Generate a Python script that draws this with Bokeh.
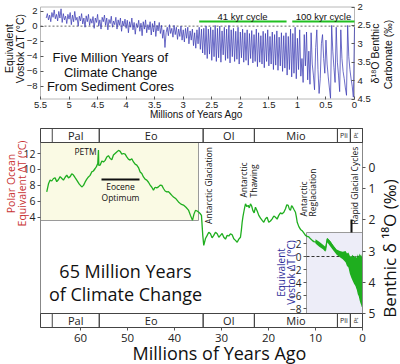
import numpy as np
from bokeh.plotting import figure
from bokeh.models import Range1d, LinearAxis, Label, FixedTicker
from bokeh.layouts import column
from bokeh.embed import file_html
from bokeh.resources import INLINE
from bokeh.core.properties import value

# ======================= DATA =======================
# Top panel: benthic carbonate d18O stack, 5.40 Ma -> 0 Ma, 20 kyr steps
top_d18o = [
    2.30, 2.18, 2.35, 2.22, 2.40, 2.15, 2.28, 2.08, 2.32, 2.20,
    2.38, 2.12, 2.30, 2.05, 2.42, 2.18, 2.35, 2.25, 2.45, 2.20,
    2.33, 2.15, 2.48, 2.22, 2.40, 2.12, 2.36, 2.28, 2.52, 2.25,
    2.38, 2.18, 2.46, 2.30, 2.55, 2.24, 2.40, 2.20, 2.50, 2.32,
    2.44, 2.26, 2.58, 2.30, 2.42, 2.20, 2.52, 2.35, 2.60, 2.28,
    2.40, 2.22, 2.50, 2.30, 2.62, 2.34, 2.45, 2.25, 2.55, 2.38,
    2.48, 2.28, 2.60, 2.35, 2.50, 2.30, 2.66, 2.38, 2.52, 2.33,
    2.58, 2.36, 2.70, 2.40, 2.55, 2.30, 2.62, 2.42, 2.74, 2.45,
    2.56, 2.36, 2.66, 2.44, 2.78, 2.40, 2.60, 2.35, 2.70, 2.48,
    2.62, 2.40, 2.76, 2.45, 2.68, 2.38, 2.80, 2.50, 2.65, 2.42,
    2.72, 2.50, 2.85, 2.62, 3.10, 2.70, 2.55, 2.78, 2.48, 2.72,
    2.58, 2.82, 2.50, 2.75, 2.55, 2.88, 2.60, 2.80, 2.52, 2.90,
    2.62, 2.95, 2.58, 2.85, 2.55, 3.00, 2.65, 2.90, 2.60, 3.05,
    2.70, 3.12, 2.62, 3.00, 2.55, 3.15, 2.60, 3.25, 2.58, 3.30,
    2.52, 3.40, 2.60, 3.28, 2.55, 3.45, 2.62, 3.35, 2.50, 3.48,
    2.58, 3.38, 2.52, 3.50, 2.65, 3.30, 2.55, 3.45, 2.60, 3.40,
    2.50, 3.52, 2.62, 3.35, 2.58, 3.48, 2.66, 3.42, 2.55, 3.55,
    2.68, 3.38, 2.60, 3.50, 2.70, 3.45, 2.62, 3.58, 2.72, 3.40,
    2.64, 3.52, 2.75, 3.48, 2.60, 3.62, 2.70, 3.50, 2.78, 3.55,
    2.66, 3.65, 2.72, 3.48, 2.62, 3.60, 2.80, 3.55, 2.68, 3.70,
    2.75, 3.58, 2.65, 3.72, 2.82, 3.60, 2.70, 3.75, 2.78, 3.66,
    2.70, 3.85, 2.80, 3.70, 2.60, 3.90, 2.72, 3.80, 2.55, 3.95,
    2.85, 3.70, 2.62, 3.88, 3.40, 4.05, 2.75, 3.60, 2.68, 3.98,
    3.20, 4.10, 2.70, 3.55, 3.85, 4.25, 3.10, 2.62, 3.70, 4.35,
    3.95, 3.00, 2.75, 3.40, 3.80, 2.90, 3.55, 3.90, 4.20, 4.48,
    2.50, 3.20, 3.65, 4.05, 2.55, 3.50, 3.85, 4.30, 2.62, 3.40,
    3.75, 3.95, 4.20, 4.40, 2.50, 3.35, 3.70, 3.95, 4.15, 4.45,
    2.55,
]
top_age = np.round(np.linspace(5.40, 0.0, 271), 2)

cycle_label = ["41 kyr cycle", "100 kyr cycle"]
cycle_from = [2.72, 1.09]
cycle_to = [1.19, 0.0]

top_x_ticks = [5.5, 5.0, 4.5, 4.0, 3.5, 3.0, 2.5, 2.0, 1.5, 1.0, 0.5, 0.0]
top_right_ticks = [2.0, 2.5, 3.0, 3.5, 4.0, 4.5]
top_left_ticks = [-8, -6, -4, -2, 0, 2]
top_zero_d18o = 2.52       # d18O value equivalent to 0 degC
top_deg_per_permil = 4.907

# Bottom panel: benthic d18O over the Cenozoic (Ma, per mil)
green_age = [67.17, 66.8, 66.45, 66.1, 65.74, 65.4, 65.04, 64.7, 64.32, 63.95,
             63.62, 63.25, 62.91, 62.55, 62.19, 61.85, 61.49, 61.1, 60.79, 60.25,
             59.72, 59.35, 59.0, 58.65, 58.3, 57.95, 57.6, 57.25, 56.87, 56.6,
             56.32, 56.17, 56.1, 55.8, 55.45, 55.1, 54.75, 54.4, 54.05, 53.68,
             53.33, 52.98, 52.63, 52.28, 51.9, 51.55, 51.2, 50.85, 50.5, 50.15,
             49.8, 49.43, 49.08, 48.72, 48.37, 48.02, 47.66, 47.3, 46.95, 46.6,
             46.25, 45.89, 45.53, 45.17, 44.82, 44.47, 44.12, 43.77, 43.4, 43.04,
             42.69, 42.34, 41.99, 41.64, 41.28, 40.91, 40.56, 40.21, 39.68, 39.15,
             38.62, 38.09, 37.55, 37.02, 36.6, 36.17, 35.85, 35.53, 35.18, 34.83,
             34.55, 34.26, 33.98, 33.77, 33.4, 33.04, 32.7, 32.34, 32.0, 31.64,
             31.28, 30.91, 30.56, 30.21, 29.86, 29.51, 29.15, 28.79, 28.44, 28.09,
             27.73, 27.38, 27.02, 26.66, 26.31, 25.96, 25.78, 25.6, 25.43, 25.26,
             25.08, 24.89, 24.6, 24.32, 24.08, 23.83, 23.58, 23.34, 23.05, 22.77,
             22.4, 22.06, 21.7, 21.34, 21.0, 20.64, 20.3, 19.94, 19.58, 19.21,
             18.86, 18.51, 18.16, 17.81, 17.45, 17.09, 16.73, 16.38, 16.1, 15.81,
             15.56, 15.32, 15.08, 14.83, 14.55, 14.26, 14.08, 13.89, 13.54, 13.19,
             12.84, 12.49, 12.13, 11.77, 11.42, 11.06, 10.7, 10.36, 9.64, 8.94,
             8.23, 7.87, 7.51, 6.81, 6.11, 5.38, 4.68, 3.98, 3.26, 2.55,
             1.85, 1.13, 0.43, 0.06]
green_d18o = [1.11, 0.85, 0.73, 0.76, 0.68, 0.66, 0.78, 0.72, 0.62, 0.68,
              0.73, 0.64, 0.57, 0.66, 0.62, 0.53, 0.57, 0.66, 0.73, 0.86,
              0.95, 0.90, 0.79, 0.70, 0.63, 0.58, 0.47, 0.44, 0.36, 0.30,
              0.20, -0.23, 0.26, 0.25, 0.12, 0.15, 0.10, -0.01, -0.05, 0.04,
              0.08, -0.07, -0.12, -0.17, -0.22, -0.19, -0.10, -0.12, -0.10, -0.01,
              0.06, 0.09, 0.05, 0.15, 0.22, 0.25, 0.33, 0.47, 0.52, 0.63,
              0.70, 0.73, 0.80, 0.89, 0.96, 1.05, 0.96, 0.98, 0.95, 0.89,
              0.90, 1.00, 1.08, 1.11, 1.10, 1.16, 1.22, 1.27, 1.33, 1.43,
              1.50, 1.53, 1.60, 1.69, 1.86, 2.02, 1.82, 1.70, 1.72, 1.76,
              1.80, 1.86, 2.50, 2.82, 2.60, 2.50, 2.40, 2.45, 2.58, 2.50,
              2.40, 2.45, 2.56, 2.50, 2.44, 2.56, 2.62, 2.50, 2.52, 2.45,
              2.48, 2.61, 2.66, 2.72, 2.62, 2.56, 2.35, 2.08, 1.90, 1.76,
              1.62, 1.49, 1.58, 1.54, 1.62, 1.49, 1.56, 1.70, 1.78, 1.60,
              1.72, 1.86, 1.95, 2.02, 2.08, 1.97, 1.92, 2.08, 2.04, 1.97,
              1.88, 1.92, 1.98, 1.86, 1.78, 1.81, 1.76, 1.65, 1.52, 1.54,
              1.66, 1.70, 1.55, 1.60, 1.68, 1.76, 1.90, 2.08, 2.22, 2.31,
              2.35, 2.42, 2.50, 2.53, 2.55, 2.61, 2.66, 2.70, 2.72, 2.82,
              2.88, 2.98, 2.61, 2.72, 2.88, 3.04, 3.09, 3.14, 3.30, 3.62,
              3.84, 4.16, 4.48, 4.69]

# Late Neogene glacial-interglacial range (min / max d18O)
late_age = [10.0, 9.2, 8.4, 7.9, 7.5, 7.0, 6.2, 5.5, 4.8, 4.2,
            3.6, 3.3, 3.0, 2.7, 2.4, 2.1, 1.8, 1.5, 1.2, 1.0,
            0.8, 0.6, 0.45, 0.3, 0.15, 0.05, 0.0]
late_min = [2.62, 2.70, 2.80, 2.86, 2.58, 2.66, 2.82, 2.95, 3.00, 3.02,
            3.00, 3.08, 3.05, 3.15, 3.18, 3.12, 3.20, 3.15, 3.22, 3.10,
            3.18, 3.08, 3.15, 3.10, 3.20, 3.12, 3.35]
late_max = [2.76, 2.86, 2.94, 3.02, 2.72, 2.82, 2.98, 3.12, 3.20, 3.26,
            3.36, 3.48, 3.52, 3.72, 3.85, 3.95, 4.05, 4.12, 4.25, 4.38,
            4.45, 4.58, 4.66, 4.72, 4.80, 4.76, 4.82]

epoch_name = ["Pal", "Eo", "Ol", "Mio", "Pli", "Pt"]
epoch_from = [66.0, 56.0, 33.9, 23.0, 5.33, 2.58]
epoch_to = [56.0, 33.9, 23.0, 5.33, 2.58, 0.0]

bottom_x_ticks = [60, 50, 40, 30, 20, 10, 0]
bottom_right_labels = ["0", "1", "2", "3", "4", "5"]
polar_ticks = [4, 6, 8, 10, 12]
vostok_ticks = [-8, -6, -4, -2, 0, 2]

# ======================= LAYOUT (canvas pixels -> data) =======================
W = 400
TOP_H, BOT_H = 122, 242
T_X0, T_X1, T_Y0, T_Y1 = 40, 354, 6.5, 98.5     # top panel box
B_X0, B_X1 = 40, 362                            # bottom panel box
TOP_AGE_MAX, TOP_D_TOP, TOP_D_BOT = 5.5, 2.0, 4.5
BOT_AGE_MAX = 68.5
B_PX_PER_MA = (B_X1 - B_X0) / BOT_AGE_MAX
B_Y_D0, B_PX_PER_PERMIL = 156.75, 31.25


def top_xy(X, Y):
    x = TOP_AGE_MAX * (T_X1 - X) / (T_X1 - T_X0)
    y = TOP_D_TOP + (TOP_D_BOT - TOP_D_TOP) * (Y - T_Y0) / (T_Y1 - T_Y0)
    return x, y


def bot_xy(X, Y):   # Y in page pixels (bottom figure starts at TOP_H)
    return (B_X1 - X) / B_PX_PER_MA, (Y - B_Y_D0) / B_PX_PER_PERMIL


BOT_D_TOP = bot_xy(0, 128)[1]
BOT_D_BOT = bot_xy(0, 327)[1]


def style_axis(ax, font, size, tin=0, tout=3, color="#222222", standoff=2):
    ax.major_label_text_font = font
    ax.major_label_text_font_size = size
    ax.major_label_text_color = color
    ax.major_tick_in = tin
    ax.major_tick_out = tout
    ax.minor_tick_line_color = None
    ax.major_tick_line_color = "#555555"
    ax.axis_line_color = None
    ax.major_label_standoff = standoff


def add_label(p, conv, text, X, Y, size, font, color="#111111", angle=0.0,
              align="center", baseline="middle"):
    x, y = conv(X, Y)
    p.add_layout(Label(x=x, y=y, text=text, text_font=font, text_font_size=size,
                       text_color=color, angle=angle, text_align=align,
                       text_baseline=baseline))


V = np.pi / 2
SANS_T = "Liberation Sans"
SANS_B = "Open Sans"

# ======================= TOP FIGURE =======================
tx0, ty0 = top_xy(0, 0)
tx1, ty1 = top_xy(W, TOP_H)
top = figure(width=W, height=TOP_H, x_range=Range1d(tx0, tx1), y_range=Range1d(ty1, ty0),
             x_axis_location=None, y_axis_location=None,
             output_backend="svg", toolbar_location=None, min_border=0,
             outline_line_color=None, background_fill_color="white")
top.xgrid.visible = False
top.ygrid.visible = False


def t_of_d(d):
    return (top_zero_d18o - d) * top_deg_per_permil


top.extra_y_ranges = {"T": Range1d(t_of_d(ty1), t_of_d(ty0))}

top.quad(left=[TOP_AGE_MAX], right=[0.0], top=[TOP_D_TOP], bottom=[TOP_D_BOT],
         fill_color=None, line_color="#b8b8b8", line_width=1)
top.line([TOP_AGE_MAX, 0.0], [0, 0], y_range_name="T", line_dash="2 2",
         line_color="#666666", line_width=1)
top.line(top_age, top_d18o, line_color="#3c3cb4", line_width=0.75)

_, ybar = top_xy(0, 21)
top.segment(x0=cycle_from, x1=cycle_to, y0=[ybar] * 2, y1=[ybar] * 2,
            line_color="#22c022", line_width=2.2)

tx = LinearAxis(fixed_location=TOP_D_BOT, ticker=FixedTicker(ticks=top_x_ticks))
tx.major_label_overrides = {t: ("%g" % t) for t in top_x_ticks}
style_axis(tx, SANS_T, "9.5px", tin=3, tout=0, standoff=3)
top.add_layout(tx, "below")

ry = LinearAxis(fixed_location=0.0, ticker=FixedTicker(ticks=top_right_ticks))
ry.major_label_overrides = {t: ("%g" % t) for t in top_right_ticks}
style_axis(ry, SANS_T, "9.5px", tin=3, tout=0, standoff=3)
top.add_layout(ry, "right")

ly = LinearAxis(y_range_name="T", fixed_location=TOP_AGE_MAX,
                ticker=FixedTicker(ticks=top_left_ticks))
style_axis(ly, SANS_T, "9.5px", tin=3, tout=0, standoff=3)
top.add_layout(ly, "left")

add_label(top, top_xy, "Five Million Years of", 110, 57, "13px", SANS_T)
add_label(top, top_xy, "Climate Change", 110, 72, "13px", SANS_T)
add_label(top, top_xy, "From Sediment Cores", 110, 86, "13px", SANS_T)
add_label(top, top_xy, cycle_label[0], 242, 15.5, "9.5px", SANS_T)
add_label(top, top_xy, cycle_label[1], 323, 15.5, "9.5px", SANS_T)
add_label(top, top_xy, "Equivalent", 8, 48, "10.5px", SANS_T, angle=V)
add_label(top, top_xy, "Vostok \u0394T (\u00b0C)", 19, 48, "10.5px", SANS_T, angle=V)
add_label(top, top_xy, "\u03b4\u00b9\u2078O Benthic", 374, 53, "10.5px", SANS_T, angle=V)
add_label(top, top_xy, "Carbonate (\u2030)", 387, 54, "10.5px", SANS_T, angle=V)
add_label(top, top_xy, "Millions of Years Ago", 196, 113.5, "10px", SANS_T)

# ======================= BOTTOM FIGURE =======================
bx0, by0 = bot_xy(0, TOP_H)
bx1, by1 = bot_xy(W, TOP_H + BOT_H)
bot = figure(width=W, height=BOT_H, x_range=Range1d(bx0, bx1), y_range=Range1d(by1, by0),
             x_axis_location=None, y_axis_location=None,
             output_backend="svg", toolbar_location=None, min_border=0,
             outline_line_color=None, background_fill_color="white")
bot.xgrid.visible = False
bot.ygrid.visible = False

POLAR_12_D, POLAR_4_D = bot_xy(0, 153)[1], bot_xy(0, 216.5)[1]
VOSTOK_0_D = bot_xy(0, 256)[1]
VOSTOK_PX_PER_DEG = 6.5


def polar_of_d(d):
    return 12 + (d - POLAR_12_D) * (4 - 12) / (POLAR_4_D - POLAR_12_D)


def vostok_of_d(d):
    return -(d - VOSTOK_0_D) * B_PX_PER_PERMIL / VOSTOK_PX_PER_DEG


bot.extra_y_ranges = {
    "polar": Range1d(polar_of_d(by1), polar_of_d(by0)),
    "vostok": Range1d(vostok_of_d(by1), vostok_of_d(by0)),
}

band_top_hi = bot_xy(0, 142)[1]
band_bot_lo = bot_xy(0, 313)[1]
y_inset1_bottom = bot_xy(0, 220)[1]
x_inset1_right = bot_xy(198, 0)[0]
x_inset2_left = bot_xy(306, 0)[0]
y_inset2_top = bot_xy(0, 232)[1]

bot.quad(left=[BOT_AGE_MAX], right=[x_inset1_right], top=[band_top_hi],
         bottom=[y_inset1_bottom], fill_color="#fafae4", line_color="#9a9a9a")
bot.quad(left=[x_inset2_left], right=[0.0], top=[y_inset2_top],
         bottom=[band_bot_lo], fill_color="#ededf8", line_color="#9a9a9a")
bot.line([x_inset2_left, 0.0], [0, 0], y_range_name="vostok", line_dash="3 2",
         line_color="#333333", line_width=1)

bot.varea(x=late_age, y1=late_min, y2=late_max, fill_color="#1fae1f")
bot.line(green_age, green_d18o, line_color="#1fae1f", line_width=1.3)

# outer box
bot.quad(left=[BOT_AGE_MAX], right=[0.0], top=[BOT_D_TOP], bottom=[BOT_D_BOT],
         fill_color=None, line_color="#888888")

# epoch bands
mids = [(a + b) / 2 for a, b in zip(epoch_from, epoch_to)]
for ytop, ybot in [(BOT_D_TOP, band_top_hi), (band_bot_lo, BOT_D_BOT)]:
    bot.quad(left=[BOT_AGE_MAX], right=[0.0], top=[ytop], bottom=[ybot],
             fill_color="white", line_color="#444444")
    bot.quad(left=epoch_from, right=epoch_to, top=[ytop] * 6, bottom=[ybot] * 6,
             fill_color=None, line_color="#444444")
    ymid = (ytop + ybot) / 2
    bot.text(x=mids[:4], y=[ymid] * 4, text=epoch_name[:4],
             text_font=value(SANS_B), text_font_size="11px", text_color="#222222",
             text_align="center", text_baseline="middle")
    bot.text(x=[mids[4]], y=[ymid], text=[epoch_name[4]],
             text_font=value(SANS_B), text_font_size="7px", text_color="#222222",
             text_align="center", text_baseline="middle")
    bot.text(x=[mids[5]], y=[ymid], text=[epoch_name[5]], angle=V,
             text_font=value(SANS_B), text_font_size="6px", text_color="#222222",
             text_align="center", text_baseline="middle")

x_a, y_a = bot_xy(101, 179)
x_b, _ = bot_xy(139, 179)
bot.line([x_a, x_b], [y_a, y_a], line_color="#111111", line_width=2.2)
x_r, y_r0 = bot_xy(351, 219)
_, y_r1 = bot_xy(351, 232)
bot.line([x_r, x_r], [y_r0, y_r1], line_color="#111111", line_width=2)

# axes
bxa = LinearAxis(fixed_location=BOT_D_BOT, ticker=FixedTicker(ticks=bottom_x_ticks))
style_axis(bxa, SANS_B, "11.5px", tin=0, tout=3, standoff=3)
bot.add_layout(bxa, "below")

right_pos = [bot_xy(0, 166.5)[1], 1, 2, 3, 4, 5]
bya = LinearAxis(fixed_location=0.0, ticker=FixedTicker(ticks=right_pos))
bya.major_label_overrides = dict(zip(right_pos, bottom_right_labels))
style_axis(bya, SANS_B, "12px", tin=0, tout=3, standoff=3)
bot.add_layout(bya, "right")

pax = LinearAxis(y_range_name="polar", fixed_location=BOT_AGE_MAX,
                 ticker=FixedTicker(ticks=polar_ticks))
style_axis(pax, SANS_B, "10.5px", tin=0, tout=3)
bot.add_layout(pax, "left")

vax = LinearAxis(y_range_name="vostok", fixed_location=x_inset2_left,
                 ticker=FixedTicker(ticks=vostok_ticks))
style_axis(vax, SANS_B, "10px", tin=0, tout=3)
bot.add_layout(vax, "left")

# texts
add_label(bot, bot_xy, "65 Million Years", 125, 270, "18px", SANS_B)
add_label(bot, bot_xy, "of Climate Change", 125, 293, "18px", SANS_B)
add_label(bot, bot_xy, "PETM", 85, 151, "8.5px", SANS_B)
add_label(bot, bot_xy, "Eocene", 120, 186, "8.5px", SANS_B)
add_label(bot, bot_xy, "Optimum", 120, 197, "8.5px", SANS_B)
add_label(bot, bot_xy, "Antarctic Glaciation", 208, 185, "8.5px", SANS_B, angle=V)
add_label(bot, bot_xy, "Antarctic", 243, 197, "8.5px", SANS_B, angle=V, align="left")
add_label(bot, bot_xy, "Thawing", 253, 197, "8.5px", SANS_B, angle=V, align="left")
add_label(bot, bot_xy, "Antarctic", 303, 216, "8.5px", SANS_B, angle=V, align="left")
add_label(bot, bot_xy, "Reglaciation", 312, 216, "8.5px", SANS_B, angle=V, align="left")
add_label(bot, bot_xy, "Rapid Glacial Cycles", 354, 224, "8.5px", SANS_B, angle=V, align="left")
add_label(bot, bot_xy, "Polar Ocean", 10, 183, "10.5px", SANS_B, color="#c83232", angle=V)
add_label(bot, bot_xy, "Equivalent \u0394T (\u00b0C)", 21, 183, "10.5px", SANS_B,
          color="#c83232", angle=V)
add_label(bot, bot_xy, "Equivalent", 280, 272, "10px", SANS_B, color="#2e2e9a", angle=V)
add_label(bot, bot_xy, "Vostok \u0394T (\u00b0C)", 290, 272, "10px", SANS_B,
          color="#2e2e9a", angle=V)
add_label(bot, bot_xy, "Benthic \u03b4 \u00b9\u2078O (\u2030)", 389, 248, "17px", SANS_B, angle=V)
add_label(bot, bot_xy, "Millions of Years Ago", 219, 352, "18px", SANS_B)

layout = column(top, bot)
open("out.html", "w").write(file_html(layout, INLINE))
